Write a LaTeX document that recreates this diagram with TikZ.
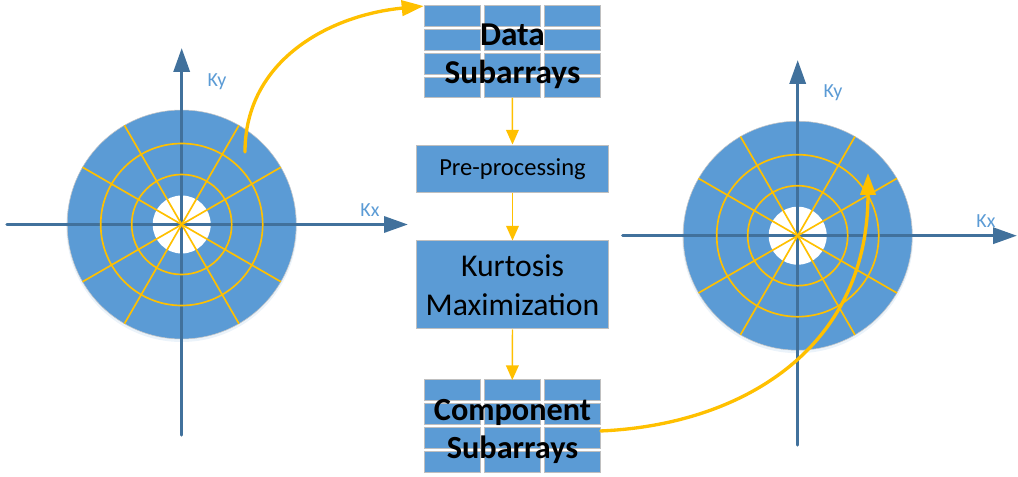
\documentclass[tikz,border=0pt]{standalone}
\usepackage{fontspec}
\setmainfont{Carlito}
\usetikzlibrary{arrows.meta,calc}
\definecolor{fillblue}{HTML}{5B9BD5}
\definecolor{axisblue}{HTML}{41719C}
\definecolor{gold}{HTML}{FFC000}
\definecolor{cellgray}{HTML}{BFBFBF}
\begin{document}
\begin{tikzpicture}[x=0.75pt,y=-0.75pt,
  axisline/.style={draw=axisblue,line width=2.5pt,line cap=round,-{Triangle[length=18pt,width=12pt]}},
  spoke/.style={draw=gold,line width=1.25pt},
  smallarrow/.style={draw=gold,line width=1.1pt,-{Triangle[length=11pt,width=9.5pt]}},
  bigarrow/.style={draw=gold,line width=2.5pt,line cap=round,-{Triangle[length=16.5pt,width=11.5pt]}},
  cell/.style={fill=fillblue,draw=cellgray,line width=0.75pt},
  procbox/.style={fill=fillblue,draw=cellgray,line width=0.75pt,inner sep=0pt,minimum width=143.7pt,text=black},
  gridnode/.style={inner sep=0pt,minimum width=132.5pt,minimum height=68.4pt},
  axlabel/.style={text=fillblue,font=\fontsize{15}{17}\selectfont,inner sep=0pt}]
\useasboundingbox (0,0) rectangle (1018,477);

% ---- discs
\foreach \cx/\cy/\ytop/\ybot/\xl/\xr in {181.7/224.5/48/435/7/408, 797.7/235.7/60/445/622.7/1017}{
  \fill[fillblue!12] (\cx,\cy+2) circle[radius=115.5];
  \fill[fillblue,draw=gray!45,line width=0.4pt] (\cx,\cy) circle[radius=114.5];
  \fill[white] (\cx,\cy) circle[radius=29];
  \draw[axisline] (\cx,\ybot) -- (\cx,\ytop);
  \draw[axisline] (\xl,\cy) -- (\xr,\cy);
  \draw[spoke] (\cx,\cy) circle[radius=50];
  \draw[spoke] (\cx,\cy) circle[radius=81];
  \foreach \a in {30,60,120,150}{
    \draw[spoke] ($(\cx,\cy)+(\a:114.5)$) -- ($(\cx,\cy)+(\a+180:114.5)$);
  }
}
\node[axlabel] (kyl) at (217,82) {Ky};
\node[axlabel] (kxl) at (370,210) {Kx};
\node[axlabel] (kyr) at (833,93) {Ky};
\node[axlabel] (kxr) at (986,221) {Kx};

% ---- data grid
\foreach \i in {0,1,2}{\foreach \j in {0,1,2,3}{
  \draw[cell] (424+\i*60,6+\j*23.9) rectangle (480.7+\i*60,26.3+\j*23.9);
}}
\node[gridnode] (data) at (512.3,51.95) {};
\node[inner sep=0pt,align=center,font=\bfseries\fontsize{25}{28.5}\selectfont] (datatext) at (512.5,56.5) {Data\\Subarrays};

% ---- component grid
\foreach \i in {0,1,2}{\foreach \j in {0,1,2,3}{
  \draw[cell] (424+\i*60,380+\j*23.9) rectangle (480.7+\i*60,400.3+\j*23.9);
}}
\node[gridnode] (comp) at (512.3,425.95) {};
\node[inner sep=0pt,align=center,font=\bfseries\fontsize{24.2}{28}\selectfont] (comptext) at (512.5,431.3) {Component\\Subarrays};

% ---- process boxes
\node[procbox,minimum height=35.8pt,font=\fontsize{18.4}{22}\selectfont] (pre) at (512.5,168.9) {Pre-processing};
\node[procbox,minimum height=66pt,align=center,font=\fontsize{23.8}{28.9}\selectfont] (kurt) at (512.5,285) {Kurtosis\\Maximization};

% ---- connectors
\draw[smallarrow] (data.south) -- (pre.north);
\draw[smallarrow] (pre.south) -- (kurt.north);
\draw[smallarrow] (kurt.south) -- (comp.north);

\coordinate (ls) at (245,152);
\draw[bigarrow] (ls) .. controls (245,60) and (330,15) .. (data.north west);
\coordinate (cs) at ($(comp.east)+(0,5)$);
\coordinate (re) at (868,173);
\draw[bigarrow] (cs) .. controls (740,425) and (868,350) .. (re);
\end{tikzpicture}
\end{document}
